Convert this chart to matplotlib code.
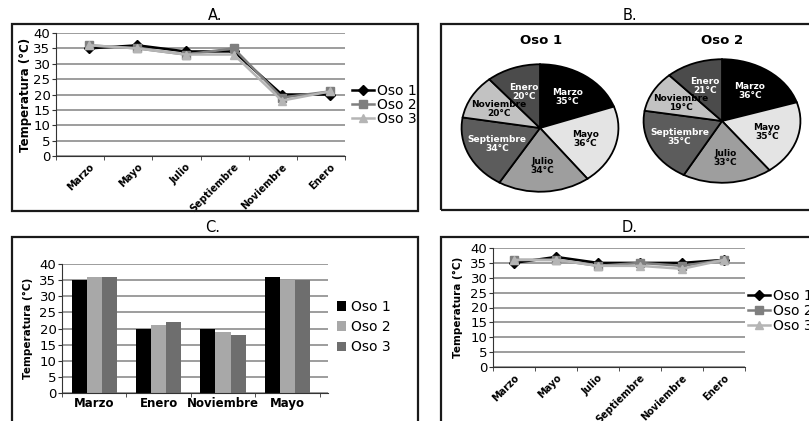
import numpy as np
import matplotlib
matplotlib.use('Agg')
import matplotlib.pyplot as plt
from matplotlib.patches import Rectangle

# data
months_line = ['Marzo', 'Mayo', 'Julio', 'Septiembre', 'Noviembre', 'Enero']
a_oso1 = [35, 36, 34, 34, 20, 20]
a_oso2 = [36, 35, 33, 35, 19, 21]
a_oso3 = [36, 35, 33, 33, 18, 21]

d_oso1 = [35, 37, 35, 35, 35, 36]
d_oso2 = [36, 36, 34, 35, 34, 36]
d_oso3 = [36, 36, 34, 34, 33, 36]

months_bar = ['Marzo', 'Enero', 'Noviembre', 'Mayo']
c_oso1 = [35, 20, 20, 36]
c_oso2 = [36, 21, 19, 35]
c_oso3 = [36, 22, 18, 35]

pie_months = ['Marzo', 'Mayo', 'Julio', 'Septiembre', 'Noviembre', 'Enero']
pie_oso1 = [35, 36, 34, 34, 20, 20]
pie_oso2 = [36, 35, 33, 35, 19, 21]
pie_colors = ['#000000', '#e4e4e4', '#9e9e9e', '#5c5c5c', '#c2c2c2', '#4b4b4b']
pie_text_colors = ['white', 'black', 'black', 'white', 'black', 'white']

series_names = ['Oso 1', 'Oso 2', 'Oso 3']

W, H = 809, 421
fig = plt.figure(figsize=(W / 100, H / 100), dpi=100)
fig.patch.set_facecolor('white')


def px_axes(left, top, right, bottom):
    return fig.add_axes([left / W, 1 - bottom / H, (right - left) / W, (bottom - top) / H])


def frame(left, top, right, bottom):
    fig.patches.append(Rectangle((left / W, 1 - bottom / H), (right - left) / W, (bottom - top) / H,
                                 transform=fig.transFigure, fill=False, lw=1.6,
                                 edgecolor='#1a1a1a'))


def style_axes(ax, ylab_x, ylab_fs, tick_fs):
    ax.set_ylim(0, 40)
    ax.set_yticks(np.arange(0, 41, 5))
    ax.yaxis.grid(True, color='#8c8c8c', lw=1.2)
    ax.set_axisbelow(True)
    for s in ['top', 'right']:
        ax.spines[s].set_visible(False)
    ax.spines['left'].set_color('#333333')
    ax.spines['bottom'].set_color('#333333')
    ax.tick_params(axis='y', labelsize=tick_fs, length=3, pad=1, color='#333333')
    ax.set_ylabel('Temperatura (°C)', fontsize=ylab_fs, fontweight='bold')
    ax.yaxis.set_label_coords(ylab_x, 0.5)


def line_panel(ax, s1, s2, s3, xlim, boundaries, leg_xy, ylab_x, ylab_fs, labelspacing):
    x = np.arange(len(months_line))
    ax.plot(x, s1, color='black', marker='D', markersize=5, lw=1.8, label=series_names[0])
    ax.plot(x, s2, color='#7f7f7f', marker='s', markersize=6, lw=1.8, label=series_names[1])
    ax.plot(x, s3, color='#b5b5b5', marker='^', markersize=6, lw=1.8, label=series_names[2])
    ax.set_xlim(*xlim)
    style_axes(ax, ylab_x, ylab_fs, 9.5)
    ax.set_xticks(x)
    ax.set_xticklabels(months_line, rotation=45, ha='right', va='top', rotation_mode='anchor',
                       fontsize=7, fontweight='bold')
    ax.tick_params(axis='x', which='major', length=0, pad=4)
    ax.set_xticks(boundaries, minor=True)
    ax.tick_params(axis='x', which='minor', length=3, color='#333333')
    ax.legend(loc='center left', bbox_to_anchor=(leg_xy[0] / W, 1 - leg_xy[1] / H),
              bbox_transform=fig.transFigure, frameon=False, fontsize=10,
              borderpad=0, borderaxespad=0, handlelength=1.6, handletextpad=0.2,
              labelspacing=labelspacing)


# panel A
frame(12, 24, 418, 211)
fig.text(215 / W, 1 - 15 / H, 'A.', ha='center', va='center', fontsize=10.5)
axA = px_axes(56, 33, 345, 156)
line_panel(axA, a_oso1, a_oso2, a_oso3, (-0.66, 5.31), np.arange(-0.69, 5.4, 1),
           (352, 105), -0.083, 8.5, 0.0)

# panel D
frame(441, 237, 830, 440)
fig.text(630 / W, 1 - 228 / H, 'D.', ha='center', va='center', fontsize=10.5)
axD = px_axes(493, 248, 745, 367)
line_panel(axD, d_oso1, d_oso2, d_oso3, (-0.5, 5.5), np.arange(-0.5, 5.6, 1),
           (748, 311), -0.119, 7.5, 0.05)

# panel C
frame(12, 237, 418, 440)
fig.text(213 / W, 1 - 228 / H, 'C.', ha='center', va='center', fontsize=10.5)
axC = px_axes(62, 264, 328, 393)
xc = np.arange(len(months_bar))
bw = 0.235
axC.bar(xc - bw, c_oso1, bw, color='black', label=series_names[0])
axC.bar(xc, c_oso2, bw, color='#a8a8a8', label=series_names[1])
axC.bar(xc + bw, c_oso3, bw, color='#6e6e6e', label=series_names[2])
axC.set_xlim(-0.5, 3.63)
style_axes(axC, -0.109, 7.5, 9.5)
axC.set_xticks(xc)
axC.set_xticklabels(months_bar, fontsize=8.5, fontweight='bold')
axC.tick_params(axis='x', which='major', length=0, pad=3)
axC.set_xticks(np.arange(-0.5, 3.6, 1), minor=True)
axC.tick_params(axis='x', which='minor', length=3, color='#333333')
axC.legend(loc='center left', bbox_to_anchor=(337 / W, 1 - 327 / H),
           bbox_transform=fig.transFigure, frameon=False, fontsize=10,
           borderpad=0, borderaxespad=0, handlelength=0.65, handleheight=0.65,
           handletextpad=0.35, labelspacing=0.45)

# panel B
frame(441, 24, 830, 210)
fig.text(630 / W, 1 - 15 / H, 'B.', ha='center', va='center', fontsize=10.5)


def pie_panel(ax, values, title, title_xy):
    labels = [f'{m}\n{v}°C' for m, v in zip(pie_months, values)]
    wedges, texts = ax.pie(values, colors=pie_colors, startangle=90, counterclock=False,
                           labels=labels, labeldistance=0.6,
                           wedgeprops=dict(edgecolor='black', linewidth=1.3),
                           textprops=dict(fontsize=6.5, fontweight='bold'))
    for t, c in zip(texts, pie_text_colors):
        t.set_ha('center')
        t.set_va('center')
        t.set_color(c)
        t.set_linespacing(1.0)
    ax.set_aspect('auto')
    ax.set_xlim(-1.02, 1.02)
    ax.set_ylim(-1.02, 1.02)
    ax.axis('off')
    fig.text(title_xy[0] / W, 1 - title_xy[1] / H, title, ha='center', va='center',
             fontsize=9.5, fontweight='bold')


axP1 = px_axes(460, 63, 620, 193)
pie_panel(axP1, pie_oso1, 'Oso 1', (541, 40))
axP2 = px_axes(642, 58, 802, 184)
pie_panel(axP2, pie_oso2, 'Oso 2', (722, 40))

fig.savefig('out.png', dpi=100)
